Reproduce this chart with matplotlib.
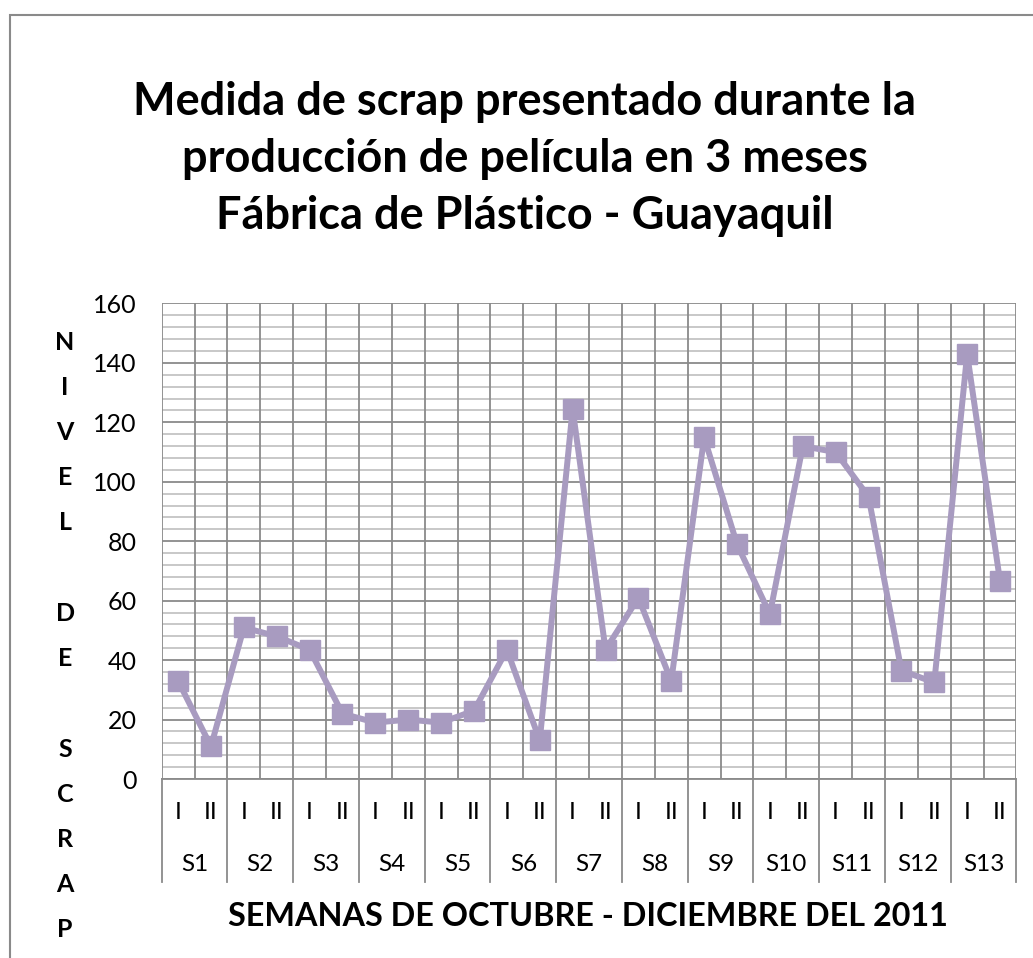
import numpy as np
import matplotlib.pyplot as plt
from matplotlib.lines import Line2D
from matplotlib.patches import Rectangle
from matplotlib.ticker import MultipleLocator
import matplotlib.transforms as mtransforms

plt.rcParams['font.family'] = ['Lato', 'DejaVu Sans']

weeks = ["S1", "S2", "S3", "S4", "S5", "S6", "S7",
         "S8", "S9", "S10", "S11", "S12", "S13"]
halves = ["I", "II"]

scrap = [33, 11, 51, 48, 43.5, 22, 19, 20, 19, 23, 43.5, 13, 124.5,
         43.5, 61, 33, 115, 79, 55.5, 112, 110, 95, 36.5, 32.5, 143, 66.5]

title = ("Medida de scrap presentado durante la\n"
         "producción de película en 3 meses\n"
         "Fábrica de Plástico - Guayaquil")
xlabel = "SEMANAS DE OCTUBRE - DICIEMBRE DEL 2011"
ylabel = "NIVEL DE SCRAP"

line_color = "#a89bc0"

fig = plt.figure(figsize=(10.33, 9.58), dpi=100)
ax = fig.add_axes([0.1565, 0.1868, 0.8275, 0.4964])

x = np.arange(len(scrap))
ax.plot(x, scrap, color=line_color, lw=4.3, marker="s", markersize=14.5,
        zorder=3)

ax.set_xlim(-0.5, len(scrap) - 0.5)
ax.set_ylim(0, 160)

# gridlines
ax.yaxis.set_major_locator(MultipleLocator(20))
ax.yaxis.set_minor_locator(MultipleLocator(4))
ax.grid(which="minor", axis="y", color="#c4c4c4", lw=1.3)
ax.grid(which="major", axis="y", color="#8a8a8a", lw=1.3)
for b in np.arange(-0.5, len(scrap), 1.0):
    ax.axvline(b, color="#8a8a8a", lw=1.3, zorder=1)
ax.set_axisbelow(True)
for s in ax.spines.values():
    s.set_visible(False)
ax.spines["bottom"].set_visible(True)
ax.spines["bottom"].set_color("#8a8a8a")
ax.spines["bottom"].set_linewidth(1.3)

ax.tick_params(axis="y", which="both", length=0, pad=18, labelsize=18)
ax.set_xticks([])

# multi-level category axis
trans = mtransforms.blended_transform_factory(ax.transData, ax.transAxes)
for i in range(len(scrap)):
    ax.text(i, -0.07, halves[i % 2], transform=trans, ha="center",
            va="center", fontsize=17.5)
for k, w in enumerate(weeks):
    ax.text(2 * k + 0.5, -0.18, w, transform=trans, ha="center",
            va="center", fontsize=17.5)
for b in np.arange(-0.5, len(scrap), 2.0):
    ax.add_line(Line2D([b, b], [0, -0.217], transform=trans,
                       color="#8a8a8a", lw=1.3, clip_on=False))

fig.text(0.569, 0.043, xlabel, ha="center", va="center",
         fontsize=23.3, fontweight="bold")
fig.text(0.063, (958 - 636) / 958, "\n".join(ylabel), ha="center",
         va="center", fontsize=18, fontweight="bold", linespacing=2.17)

fig.text(0.508, (958 - 159) / 958, title, ha="center", va="center",
         fontsize=32.5, fontweight="bold", linespacing=1.44)

# chart border
fig.add_artist(Rectangle((10 / 1033, -0.1), 1.2, (958 - 15) / 958 + 0.1,
                         transform=fig.transFigure, fill=False,
                         edgecolor="#8a8a8a", lw=1.5))

plt.savefig("out.png", dpi=100)
